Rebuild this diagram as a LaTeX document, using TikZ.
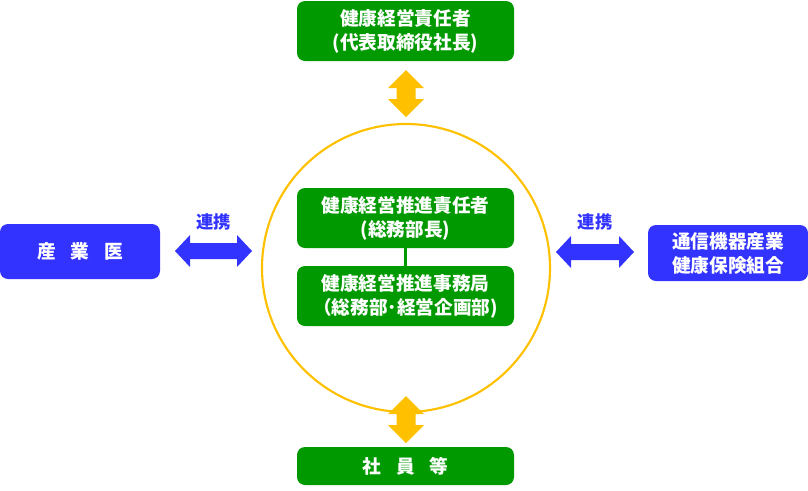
\documentclass[tikz,border=0pt]{standalone}
\usepackage{fontspec}
\setmainfont{Noto Sans CJK JP}
\begin{document}
\begin{tikzpicture}[x=0.75pt,y=-0.75pt,
  gbox/.style={draw=none,fill=boxgreen,rounded corners=6pt,text=white,align=center,font=\fontsize{14}{18}\selectfont\bfseries,inner sep=0pt},
  bbox/.style={draw=none,fill=boxblue,rounded corners=6pt,text=white,align=center,font=\fontsize{14}{18}\selectfont\bfseries,inner sep=0pt},
  lbl/.style={text=boxblue,font=\fontsize{13}{16}\selectfont\bfseries,inner sep=0pt},
  oarrow/.style={fill=arrorange,draw=none},
  barrow/.style={fill=boxblue,draw=none}]
\definecolor{boxgreen}{HTML}{009900}
\definecolor{boxblue}{HTML}{3333FF}
\definecolor{arrorange}{HTML}{FFC000}
\useasboundingbox (0,0) rectangle (808,490);
% circle
\node[circle,draw=arrorange,line width=1.6pt,minimum size=288*0.75pt,inner sep=0pt] (ring) at (406,268) {};
% boxes
\node[gbox,minimum width=217*0.75pt,minimum height=60*0.75pt] (top) at (405.5,31) {健康経営責任者\\(代表取締役社長)};
\node[gbox,minimum width=217*0.75pt,minimum height=60*0.75pt] (in1) at (405.5,218) {健康経営推進責任者\\(総務部長)};
\node[gbox,minimum width=217*0.75pt,minimum height=60*0.75pt] (in2) at (405.5,296) {健康経営推進事務局\\（総務部･経営企画部)};
\node[gbox,minimum width=217*0.75pt,minimum height=38*0.75pt] (bot) at (405.5,466) {社\hspace{0.8em}員\hspace{0.8em}等};
\node[bbox,minimum width=160*0.75pt,minimum height=55*0.75pt] (left) at (80,251.5) {産\hspace{0.8em}業\hspace{0.8em}医};
\node[bbox,minimum width=160*0.75pt,minimum height=56*0.75pt] (right) at (728,253) {通信機器産業\\健康保険組合};
\draw[draw=boxgreen,line width=2.2pt] (in1.south) -- (in2.north);
% vertical arrows
\fill[oarrow] (406,70) -- (424,88) -- (415.5,88) -- (415.5,99) -- (424,99) -- (406,117) -- (388,99) -- (396.5,99) -- (396.5,88) -- (388,88) -- cycle;
\fill[oarrow] (406,396) -- (424,414) -- (415.5,414) -- (415.5,425) -- (424,425) -- (406,443) -- (388,425) -- (396.5,425) -- (396.5,414) -- (388,414) -- cycle;
% horizontal arrows
\fill[barrow] (175,251) -- (190,235) -- (190,243) -- (237,243) -- (237,235) -- (252,251) -- (237,267) -- (237,259) -- (190,259) -- (190,267) -- cycle;
\fill[barrow] (556,252) -- (571,236) -- (571,244) -- (619,244) -- (619,236) -- (634,252) -- (619,268) -- (619,260) -- (571,260) -- (571,268) -- cycle;
\node[lbl] (l1) at (213.5,222) {連携};
\node[lbl] (l2) at (595,222) {連携};
\end{tikzpicture}
\end{document}
